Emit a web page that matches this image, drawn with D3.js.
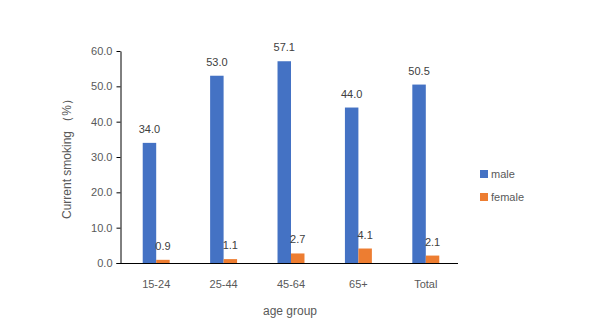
<!DOCTYPE html>
<html><head><meta charset="utf-8">
<script src="https://cdn.jsdelivr.net/npm/d3@7"></script>
<style>body{margin:0;background:#fff}svg{display:block}text{font-family:"Liberation Sans",Arial,sans-serif}</style>
</head><body>
<svg id="c" width="601" height="324"></svg>
<script>
const categories = ["15-24","25-44","45-64","65+","Total"];
const male = [34.0,53.0,57.1,44.0,50.5];
const female = [0.9,1.1,2.7,4.1,2.1];
const seriesNames = ["male","female"];
const colors = ["#4472C4","#ED7D31"];
const yTicks = [0,10,20,30,40,50,60];

(function(){
const svg = d3.select("#c");
const mL = 120.5, mR = 458, mT = 51, mB = 263;
const x = d3.scaleBand().domain(categories).range([122.5,459.5]).paddingInner(0.6).paddingOuter(0.3);
const xs = d3.scaleBand().domain(seriesNames).range([0,x.bandwidth()]);
const y = d3.scaleLinear().domain([0,60]).range([mB,mT]);

const yAxis = svg.append("g").attr("transform",`translate(${mL},0)`)
  .call(d3.axisLeft(y).tickValues(yTicks).tickFormat(d3.format(".1f")).tickSize(4).tickSizeOuter(0));
yAxis.select(".domain").attr("stroke","#000");
yAxis.selectAll(".tick line").attr("stroke","#000");
yAxis.selectAll("text").attr("fill","#595959").style("font-size","11px").attr("x",-8);

const data = categories.map((c,i)=>({c, vals:[male[i],female[i]]}));
const g = svg.append("g");
data.forEach(d=>{
  d.vals.forEach((v,j)=>{
    const bx = x(d.c)+xs(seriesNames[j]);
    g.append("rect").attr("x",bx).attr("width",xs.bandwidth()).attr("y",y(v)).attr("height",y(0)-y(v)).attr("fill",colors[j]);
    g.append("text").attr("x",bx+xs.bandwidth()/2).attr("y",y(v)-10).attr("text-anchor","middle")
      .attr("fill","#404040").style("font-size","11px").text(v.toFixed(1));
  });
});

const xAxis = svg.append("g").attr("transform",`translate(0,${mB})`)
  .call(d3.axisBottom(x).tickSize(0).tickSizeOuter(0));
xAxis.select(".domain").attr("stroke","#000").attr("d",`M${mL-4},0.5H${mR}`);
xAxis.selectAll("text").attr("fill","#595959").style("font-size","11px").attr("dy","0").attr("y",25);

svg.append("text").attr("x",290).attr("y",315).attr("text-anchor","middle").attr("fill","#595959").style("font-size","12px").text("age group");
svg.append("text").attr("transform","translate(71,156) rotate(-90)").attr("text-anchor","middle").attr("fill","#595959").style("font-size","12px").text("Current smoking （%）");

const leg = svg.append("g");
seriesNames.forEach((s,i)=>{
  const ly = 174 + i*23;
  leg.append("rect").attr("x",480).attr("y",ly-4).attr("width",8).attr("height",8).attr("fill",colors[i]);
  leg.append("text").attr("x",491).attr("y",ly+4).attr("fill","#595959").style("font-size","11px").text(s);
});
})();
</script>
</body></html>
